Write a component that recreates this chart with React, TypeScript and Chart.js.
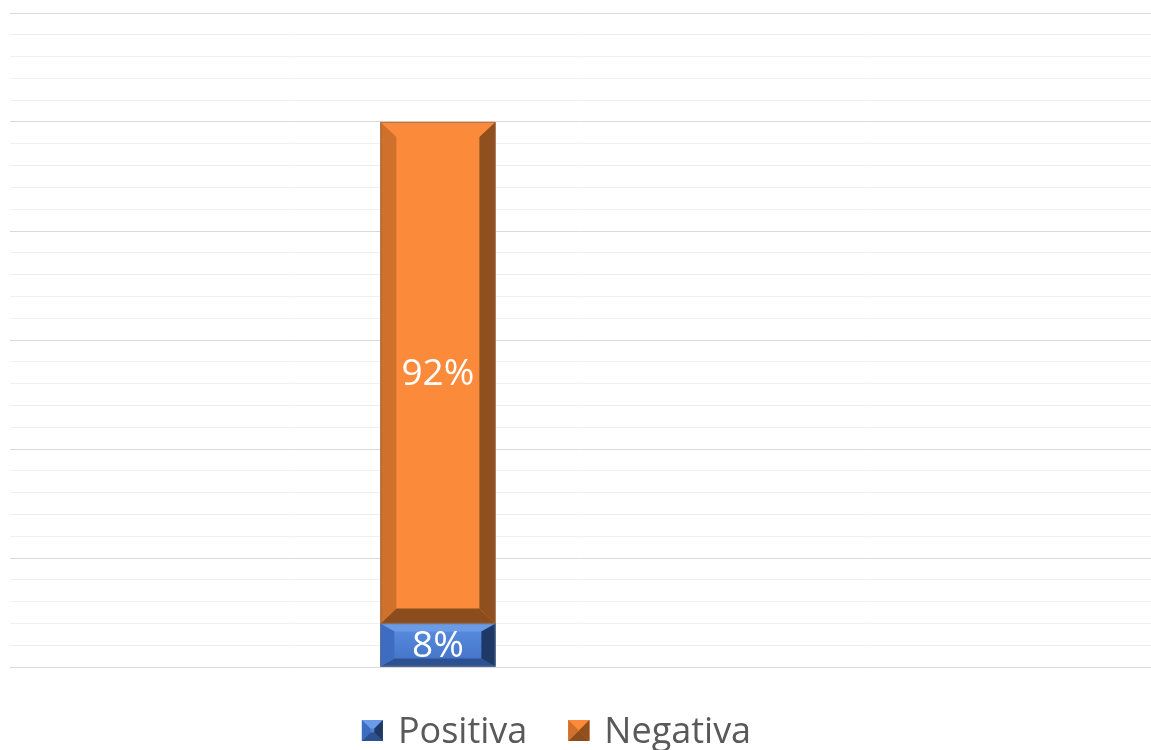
import React, { useEffect, useRef } from "react";
import { Chart, registerables } from "chart.js";

Chart.register(...registerables);

// ---- data ----
const categories = ["", "", "", ""];
const positiva = [null, 8, null, null];
const negativa = [null, 92, null, null];
const seriesNames = ["Positiva", "Negativa"];
const yMin = 0;
const yMax = 120;
const yStep = 4;
const majorEvery = 20;

// ---- styles ----
const FONT = "'Open Sans', 'DejaVu Sans', sans-serif";
const STYLES = [
  {
    face: "#4a7dd2",
    faceTop: "#5b8fe2",
    faceBottom: "#4070c4",
    top: "#6b9be6",
    left: "#3d6cc0",
    right: "#1e3966",
    bottom: "#2d5190",
    bx: 14,
    by: 8,
  },
  {
    face: "#fc8a3b",
    faceTop: "#fc8a3b",
    faceBottom: "#fc8a3b",
    top: "#fc8a3b",
    left: "#d0702d",
    right: "#8f4f1f",
    bottom: "#8c4d1e",
    bx: 16,
    by: 15,
  },
];

function poly(ctx: CanvasRenderingContext2D, pts: number[][], color: string) {
  ctx.beginPath();
  ctx.moveTo(pts[0][0], pts[0][1]);
  for (let i = 1; i < pts.length; i++) ctx.lineTo(pts[i][0], pts[i][1]);
  ctx.closePath();
  ctx.fillStyle = color;
  ctx.fill();
}

function drawBevel(
  ctx: CanvasRenderingContext2D,
  L: number,
  T: number,
  R: number,
  B: number,
  bx: number,
  by: number,
  st: any,
  outline: boolean
) {
  const g = ctx.createLinearGradient(0, T, 0, B);
  g.addColorStop(0, st.faceTop);
  g.addColorStop(1, st.faceBottom);
  ctx.fillStyle = g;
  ctx.fillRect(L, T, R - L, B - T);
  poly(ctx, [[L, T], [R, T], [R - bx, T + by], [L + bx, T + by]], st.top);
  poly(ctx, [[L, B], [R, B], [R - bx, B - by], [L + bx, B - by]], st.bottom);
  poly(ctx, [[L, T], [L + bx, T + by], [L + bx, B - by], [L, B]], st.left);
  poly(ctx, [[R, T], [R - bx, T + by], [R - bx, B - by], [R, B]], st.right);
  if (outline) {
    ctx.strokeStyle = "rgba(110,110,110,0.55)";
    ctx.lineWidth = 1;
    ctx.strokeRect(L + 0.5, T + 0.5, R - L - 1, B - T - 1);
  }
}

const bevelPlugin = {
  id: "bevelBars",
  afterDatasetsDraw(chart: any) {
    const ctx: CanvasRenderingContext2D = chart.ctx;
    ctx.save();
    chart.data.datasets.forEach((ds: any, di: number) => {
      const meta = chart.getDatasetMeta(di);
      const st = STYLES[di];
      meta.data.forEach((el: any, i: number) => {
        const v = ds.data[i];
        if (v == null) return;
        const p = el.getProps(["x", "y", "base", "width"], true);
        const L = p.x - p.width / 2;
        const R = p.x + p.width / 2;
        const T = Math.min(p.y, p.base);
        const B = Math.max(p.y, p.base);
        drawBevel(ctx, L, T, R, B, st.bx, st.by, st, true);
        ctx.fillStyle = "#ffffff";
        ctx.font = `37px ${FONT}`;
        ctx.textAlign = "center";
        ctx.textBaseline = "middle";
        ctx.fillText(`${v}%`, p.x, (T + B) / 2 + 2);
      });
    });
    ctx.restore();
  },
  afterDraw(chart: any) {
    const ctx: CanvasRenderingContext2D = chart.ctx;
    ctx.save();
    ctx.font = `36px ${FONT}`;
    const box = 21;
    const gap1 = 15;
    const gap2 = 41;
    const labels = chart.data.datasets.map((d: any) => d.label as string);
    const widths = labels.map((t: string) => ctx.measureText(t).width);
    let total = 0;
    widths.forEach((w: number, i: number) => {
      total += box + gap1 + w + (i < widths.length - 1 ? gap2 : 0);
    });
    let x = chart.width / 2 - total / 2 - 19;
    const baseline = chart.height - 7;
    const boxTop = chart.height - 30;
    labels.forEach((t: string, i: number) => {
      const st = STYLES[i];
      drawBevel(ctx, x, boxTop, x + box, boxTop + box, box / 2 - 2, box / 2 - 2, st, false);
      if (i === 1) {
        drawBevel(ctx, x, boxTop, x + box, boxTop + box, box / 2, box / 2, st, false);
      }
      ctx.fillStyle = "#595959";
      ctx.textAlign = "left";
      ctx.textBaseline = "alphabetic";
      ctx.fillText(t, x + box + gap1, baseline);
      x += box + gap1 + widths[i] + gap2;
    });
    ctx.restore();
  },
};

export default function App() {
  const ref = useRef<HTMLCanvasElement | null>(null);

  useEffect(() => {
    document.body.style.margin = "0";
    if (!ref.current) return;
    const chart = new Chart(ref.current, {
      type: "bar",
      data: {
        labels: categories,
        datasets: [
          {
            label: seriesNames[0],
            data: positiva,
            backgroundColor: STYLES[0].face,
            barThickness: 115,
          },
          {
            label: seriesNames[1],
            data: negativa,
            backgroundColor: STYLES[1].face,
            barThickness: 115,
          },
        ],
      },
      options: {
        animation: false,
        responsive: true,
        maintainAspectRatio: false,
        layout: { padding: { top: 13, left: 10, right: -6, bottom: 83 } },
        plugins: {
          legend: { display: false },
          tooltip: { enabled: false },
          title: { display: false },
        },
        scales: {
          x: {
            stacked: true,
            display: false,
          },
          y: {
            stacked: true,
            min: yMin,
            max: yMax,
            ticks: { display: false, stepSize: yStep },
            border: { display: false },
            grid: {
              drawTicks: false,
              lineWidth: 1,
              color: (c: any) =>
                c.tick && Math.round(c.tick.value) % majorEvery === 0 ? "#d9d9d9" : "#f0f0f0",
            },
          },
        },
      },
      plugins: [bevelPlugin],
    });
    return () => chart.destroy();
  }, []);

  return (
    <div style={{ position: "fixed", left: 0, top: 0, width: 1151, height: 750, background: "#fff" }}>
      <canvas ref={ref} />
    </div>
  );
}
